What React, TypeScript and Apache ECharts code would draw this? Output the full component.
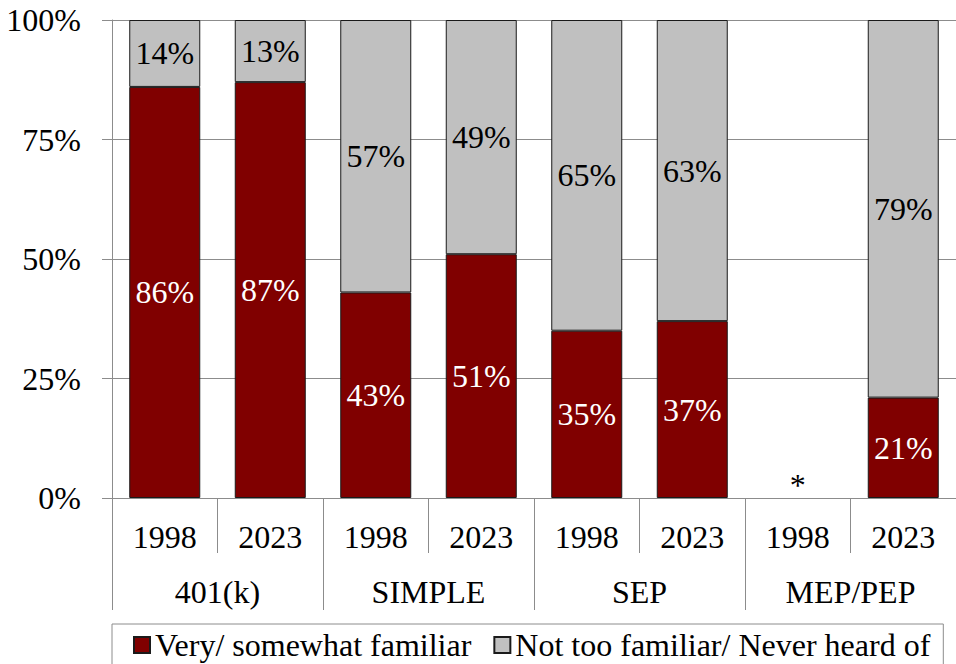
import React, { useEffect, useRef } from "react";
import * as echarts from "echarts";

const years = ["1998", "2023", "1998", "2023", "1998", "2023", "1998", "2023"];
const groups = ["401(k)", "SIMPLE", "SEP", "MEP/PEP"];
const familiar = [86, 87, 43, 51, 35, 37, 0, 21];
const notFamiliar: (number | null)[] = [14, 13, 57, 49, 65, 63, null, 79];
const notes = ["", "", "", "", "", "", "*", ""];
const seriesNames = ["Very/ somewhat familiar", "Not too familiar/ Never heard of"];

const FONT = "Liberation Serif";
const FS = 32;
const GRAY = "#8c8c8c";

export default function App() {
  const ref = useRef<HTMLDivElement>(null);
  useEffect(() => {
    if (!ref.current) return;
    const chart = echarts.init(ref.current, undefined, { renderer: "svg" });
    const familiarData = familiar.map((v, i) =>
      notes[i]
        ? {
            value: v,
            itemStyle: { borderWidth: 0 },
            label: {
              show: true,
              formatter: notes[i],
              color: "#000",
              position: "inside",
              offset: [0, -13],
            },
          }
        : v
    );
    chart.setOption({
      animation: false,
      textStyle: { fontFamily: FONT },
      grid: { left: 112, top: 20, width: 854, height: 478, containLabel: false },
      legend: {
        left: 112,
        top: 624,
        icon: "rect",
        itemWidth: 16,
        itemHeight: 16,
        itemGap: 22,
        padding: [5, 13, 5, 21],
        borderColor: GRAY,
        borderWidth: 1,
        textStyle: { fontFamily: FONT, fontSize: FS, color: "#000" },
        data: seriesNames,
      },
      xAxis: [
        {
          type: "category",
          data: years,
          position: "bottom",
          axisLine: { show: true, lineStyle: { color: GRAY, width: 1 } },
          axisTick: { show: true, length: 55, interval: 0, lineStyle: { color: GRAY } },
          axisLabel: { interval: 0, margin: 23, fontSize: FS, color: "#000", fontFamily: FONT },
        },
        {
          type: "category",
          data: groups,
          position: "bottom",
          axisLine: { show: false },
          axisTick: { show: true, length: 112, interval: 0, lineStyle: { color: GRAY } },
          axisLabel: { interval: 0, margin: 78, fontSize: FS, color: "#000", fontFamily: FONT },
        },
      ],
      yAxis: {
        type: "value",
        min: 0,
        max: 100,
        interval: 25,
        axisLine: { show: true, lineStyle: { color: GRAY } },
        axisTick: { show: true, length: 10, lineStyle: { color: GRAY } },
        splitLine: { show: true, lineStyle: { color: GRAY } },
        axisLabel: { formatter: "{value}%", margin: 31, fontSize: FS, color: "#000", fontFamily: FONT },
      },
      series: [
        {
          name: seriesNames[0],
          type: "bar",
          stack: "total",
          barWidth: 71,
          xAxisIndex: 0,
          itemStyle: { color: "#800000", borderColor: "#1a1a1a", borderWidth: 1 },
          label: {
            show: true,
            position: "inside",
            formatter: "{c}%",
            color: "#fff",
            fontSize: FS,
            fontFamily: FONT,
          },
          data: familiarData,
        },
        {
          name: seriesNames[1],
          type: "bar",
          stack: "total",
          barWidth: 71,
          xAxisIndex: 0,
          itemStyle: { color: "#c0c0c0", borderColor: "#1a1a1a", borderWidth: 1 },
          label: {
            show: true,
            position: "inside",
            formatter: "{c}%",
            color: "#000",
            fontSize: FS,
            fontFamily: FONT,
          },
          data: notFamiliar,
        },
      ],
    });
    return () => chart.dispose();
  }, []);
  return (
    <div
      ref={ref}
      style={{ position: "absolute", left: 0, top: 0, width: 956, height: 664 }}
    />
  );
}
